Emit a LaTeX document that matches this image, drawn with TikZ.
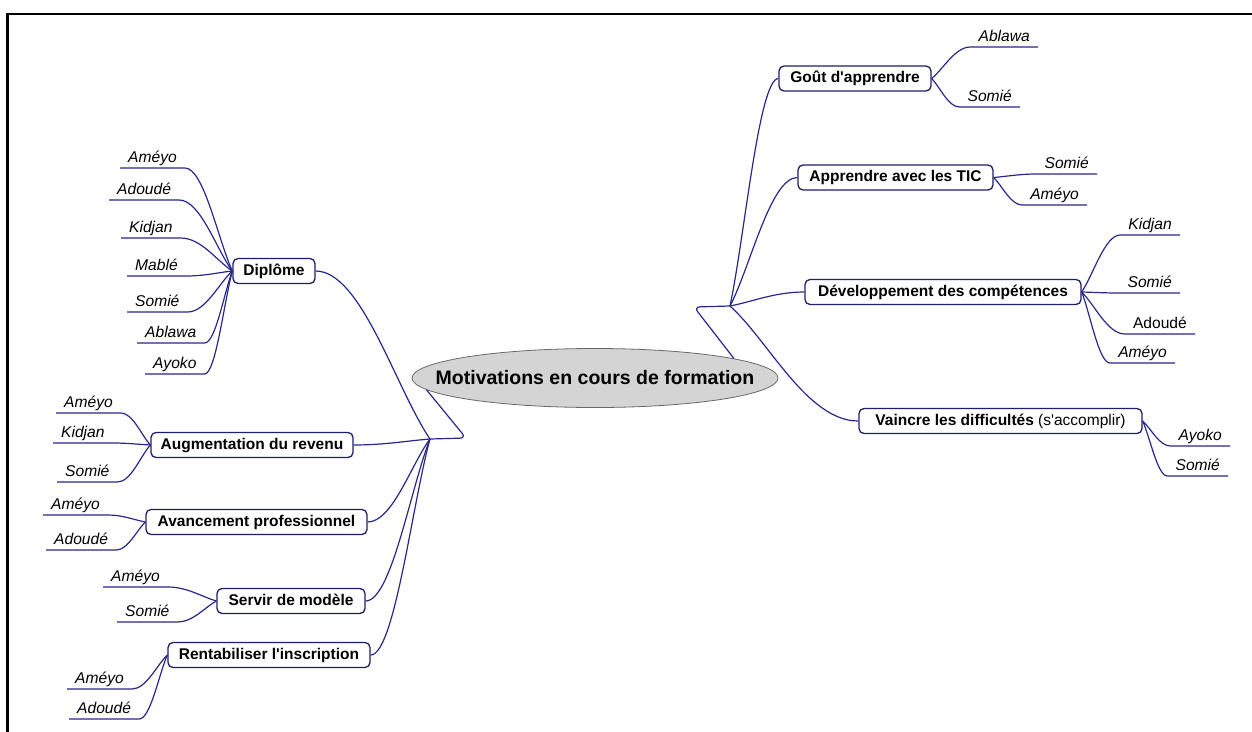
\documentclass[tikz,border=0pt]{standalone}
\usepackage{fontspec}
\setmainfont{Liberation Sans}
\usetikzlibrary{calc,shapes.geometric}
\definecolor{linkc}{RGB}{40,40,140}
\definecolor{boxc}{RGB}{30,30,105}
\definecolor{rootfill}{RGB}{212,212,212}
\definecolor{rootdraw}{RGB}{105,105,105}
\tikzset{
  link/.style={draw=linkc, line width=1.2pt},
  mainbox/.style={draw=boxc, line width=1.3pt, rounded corners=5pt, fill=white,
    font=\fontsize{15.5}{18}\selectfont\bfseries, inner xsep=3pt, inner ysep=0pt,
    minimum height=25pt, text height=11pt, text depth=3pt},
  kid/.style={font=\fontsize{15.6}{18}\selectfont\itshape, inner xsep=8pt, inner ysep=0pt,
    text height=12pt, text depth=5pt},
  kidL/.style={kid, anchor=south west},
  kidR/.style={kid, anchor=south east},
  branchL/.style={to path={let \p1=(\tikztostart), \p2=(\tikztotarget) in
    .. controls ({\x1+0.4*(\x2-\x1)},\y1) and ({\x2+0.3*(\x1-\x2)},{\y2+0.3*(\y1-\y2)}) .. (\tikztotarget) \tikztonodes}},
  branchR/.style={to path={let \p1=(\tikztostart), \p2=(\tikztotarget) in
    .. controls ({\x1+0.3*(\x2-\x1)},{\y1+0.3*(\y2-\y1)}) and ({\x2-0.4*(\x2-\x1)},\y2) .. (\tikztotarget) \tikztonodes}},
}
\begin{document}
\begin{tikzpicture}[x=1pt,y=1pt]
\useasboundingbox (0,0) rectangle (1252,-731);
% frame
\draw[line width=2.7pt] (7.3,-740) -- (7.3,-14) -- (1260,-14);

% root
\node[ellipse, draw=rootdraw, fill=rootfill, line width=0.8pt, minimum width=366pt, minimum height=59pt, inner sep=0pt] (root) at (595,-378) {};
\node[font=\fontsize{19.5}{22}\selectfont\bfseries, inner sep=0pt] (roottext) at (root.center) {Motivations en cours de formation};

% hubs
\coordinate (hubL) at (430,-439);
\coordinate (cornL) at (466,-438);
\coordinate (hubR) at (730,-306);
\coordinate (cornR) at (694,-307);
\draw[link, rounded corners=6pt] (root.184) -- (cornL) -- (hubL);
\draw[link, rounded corners=6pt] (root.8) -- (cornR) -- (hubR);

% main nodes
\node[mainbox, minimum width=82pt] (dip) at (274,-271) {Diplôme};
\node[mainbox, minimum width=202pt] (aug) at (252,-445) {Augmentation du revenu};
\node[mainbox, minimum width=221pt] (ava) at (256.5,-522) {Avancement professionnel};
\node[mainbox, minimum width=148pt] (ser) at (291,-601) {Servir de modèle};
\node[mainbox, minimum width=202pt] (ren) at (269,-655) {Rentabiliser l\textquotesingle inscription};
\node[mainbox, minimum width=152pt] (gou) at (855,-78.5) {Goût d\textquotesingle apprendre};
\node[mainbox, minimum width=195pt] (tic) at (895.5,-177.5) {Apprendre avec les TIC};
\node[mainbox, minimum width=276pt] (dev) at (943,-292) {Développement des compétences};
\node[mainbox, minimum width=283pt] (vai) at (1000.5,-421) {Vaincre les difficultés {\mdseries(s\textquotesingle accomplir)}};

\foreach \nd in {dip,aug,ava,ser,ren} \draw[link] (\nd.east) to[branchL] (hubL);
\foreach \nd in {gou,tic,dev,vai} \draw[link] (hubR) to[branchR] (\nd.west);

% left children
\node[kidL] (d1) at (120,-168) {Améyo};
\node[kidL] (d2) at (109,-200) {Adoudé};
\node[kidL] (d3) at (121,-238) {Kidjan};
\node[kidL] (d4) at (127,-276) {Mablé};
\node[kidL] (d5) at (127,-312) {Somié};
\node[kidL] (d6) at (137,-343) {Ablawa};
\node[kidL] (d7) at (145,-374) {Ayoko};
\foreach \kd in {d1,d2,d3,d4,d5,d6,d7} \draw[link] (\kd.south west) -- (\kd.south east) to[branchL] (dip.west);

\node[kidL] (a1) at (56,-413) {Améyo};
\node[kidL] (a2) at (53,-443) {Kidjan};
\node[kidL] (a3) at (57,-482) {Somié};
\foreach \kd in {a1,a2,a3} \draw[link] (\kd.south west) -- (\kd.south east) to[branchL] (aug.west);

\node[kidL] (v1) at (43,-515) {Améyo};
\node[kidL] (v2) at (46,-550) {Adoudé};
\foreach \kd in {v1,v2} \draw[link] (\kd.south west) -- (\kd.south east) to[branchL] (ava.west);

\node[kidL] (s1) at (103,-587) {Améyo};
\node[kidL] (s2) at (117,-622) {Somié};
\foreach \kd in {s1,s2} \draw[link] (\kd.south west) -- (\kd.south east) to[branchL] (ser.west);

\node[kidL] (r1) at (67,-689) {Améyo};
\node[kidL] (r2) at (69,-719) {Adoudé};
\foreach \kd in {r1,r2} \draw[link] (\kd.south west) -- (\kd.south east) to[branchL] (ren.west);

% right children
\node[kidR] (g1) at (1038,-47) {Ablawa};
\node[kidR] (g2) at (1020,-107) {Somié};
\foreach \kd in {g1,g2} \draw[link] (gou.east) to[branchR] (\kd.south west) -- (\kd.south east);

\node[kidR] (t1) at (1097,-174) {Somié};
\node[kidR] (t2) at (1087,-205) {Améyo};
\foreach \kd in {t1,t2} \draw[link] (tic.east) to[branchR] (\kd.south west) -- (\kd.south east);

\node[kidR] (e1) at (1180,-235) {Kidjan};
\node[kidR] (e2) at (1180,-293) {Somié};
\node[kidR, font=\fontsize{15.6}{18}\selectfont\upshape] (e3) at (1195,-334) {Adoudé};
\node[kidR] (e4) at (1175,-363) {Améyo};
\foreach \kd in {e1,e2,e3,e4} \draw[link] (dev.east) to[branchR] (\kd.south west) -- (\kd.south east);

\node[kidR] (w1) at (1230,-446) {Ayoko};
\node[kidR] (w2) at (1228,-476) {Somié};
\foreach \kd in {w1,w2} \draw[link] (vai.east) to[branchR] (\kd.south west) -- (\kd.south east);
\end{tikzpicture}
\end{document}
